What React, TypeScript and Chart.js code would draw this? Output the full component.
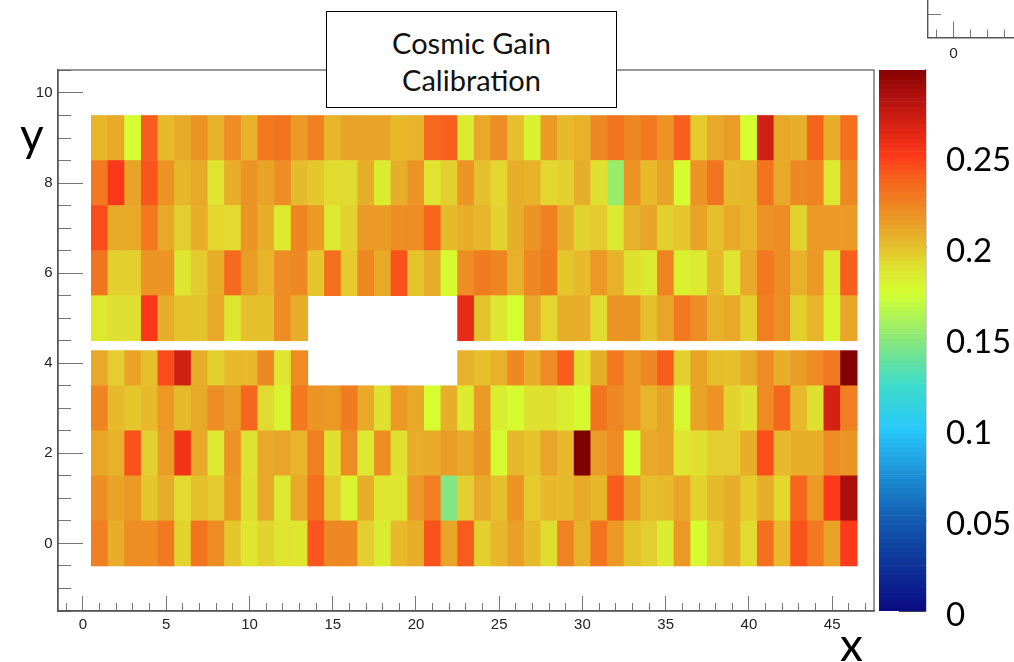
import React, { useEffect, useRef } from "react";
import { Chart, registerables } from "chart.js";

Chart.register(...registerables);

const columns = [1,2,3,4,5,6,7,8,9,10,11,12,13,14,15,16,17,18,19,20,21,22,23,24,25,26,27,28,29,30,31,32,33,34,35,36,37,38,39,40,41,42,43,44,45,46];
const N = null;
const row0 = [.226,.208,.22,.22,.228,.194,.23,.22,.198,.187,.194,.188,.187,.242,.222,.222,.196,.184,.203,.207,.243,.211,.24,.195,.204,.213,.202,.191,.224,.206,.23,.216,.199,.196,.184,.216,.177,.197,.208,.192,.232,.203,.243,.228,.212,.25];
const row1 = [.22,.212,.216,.198,.208,.192,.2,.197,.216,.19,.21,.186,.21,.232,.197,.18,.207,.187,.187,.216,.226,.147,.196,.21,.2,.218,.197,.203,.202,.21,.204,.24,.216,.2,.203,.211,.194,.202,.208,.197,.208,.193,.236,.215,.25,.285];
const row2 = [.211,.206,.243,.195,.214,.255,.21,.186,.218,.189,.21,.211,.205,.226,.19,.221,.186,.22,.19,.208,.209,.214,.21,.217,.177,.204,.199,.211,.203,.3,.214,.221,.176,.21,.212,.187,.19,.196,.196,.208,.244,.203,.207,.208,.22,.217];
const row3 = [.223,.203,.198,.203,.216,.202,.21,.22,.214,.236,.192,.181,.228,.217,.216,.227,.21,.19,.216,.21,.176,.207,.185,.215,.183,.177,.19,.19,.183,.178,.23,.222,.216,.205,.212,.179,.212,.218,.194,.19,.221,.236,.203,.19,.268,.226];
const row4 = [.21,.196,.212,.2,.245,.27,.207,.195,.203,.203,.222,.187,.221,N,N,N,N,N,N,N,N,N,.206,.2,.206,.222,.208,.221,.24,.19,.207,.228,.216,.222,.24,.195,.212,.201,.2,.209,.221,.208,.214,.221,.228,.298];
const row5 = [.186,.19,.19,.252,.208,.199,.199,.21,.187,.2,.2,.22,.208,N,N,N,N,N,N,N,N,N,.26,.199,.187,.175,.21,.193,.207,.208,.191,.217,.217,.2,.211,.228,.22,.206,.21,.195,.226,.219,.195,.205,.181,.211];
const row6 = [.23,.195,.195,.217,.217,.187,.197,.208,.234,.214,.205,.22,.222,.198,.232,.197,.222,.21,.243,.199,.208,.178,.22,.227,.223,.206,.222,.227,.198,.203,.216,.206,.19,.186,.224,.182,.185,.203,.188,.21,.228,.22,.206,.216,.185,.238];
const row7 = [.245,.21,.21,.228,.21,.196,.208,.193,.192,.217,.208,.185,.223,.215,.186,.194,.215,.215,.22,.22,.236,.202,.207,.205,.194,.207,.217,.225,.208,.194,.197,.186,.206,.212,.195,.198,.212,.2,.21,.205,.218,.22,.194,.215,.215,.215];
const row8 = [.228,.252,.212,.242,.218,.204,.21,.188,.208,.217,.212,.22,.202,.198,.192,.192,.207,.185,.208,.217,.188,.195,.217,.2,.193,.208,.206,.193,.195,.207,.19,.155,.217,.203,.212,.176,.217,.23,.202,.204,.23,.21,.222,.223,.186,.222];
const row9 = [.205,.21,.175,.24,.203,.21,.218,.206,.22,.206,.228,.23,.215,.225,.205,.212,.212,.212,.203,.205,.235,.238,.185,.21,.22,.2,.182,.215,.203,.206,.222,.23,.222,.228,.218,.238,.197,.21,.214,.175,.27,.21,.207,.237,.207,.232];
const rows = [row0,row1,row2,row3,row4,row5,row6,row7,row8,row9];
const rowLow = [-0.5,0.5,1.5,2.5,3.5,4.5,5.5,6.5,7.5,8.5];
const rowHigh = [0.5,1.5,2.5,3.5,4.28,5.5,6.5,7.5,8.5,9.5];

const paletteValues = [0,.05,.1,.125,.15,.175,.19,.2,.21,.225,.24,.25,.265,.28,.3];
const paletteColors = [[10,10,130],[18,90,176],[40,200,250],[62,220,200],[140,232,120],[212,255,48],[224,224,48],[230,192,44],[232,168,40],[240,128,32],[248,92,28],[255,58,26],[220,36,20],[184,20,16],[128,0,0]];
const scaleLevels = [.00125,.00375,.00625,.00875,.01125,.01375,.01625,.01875,.02125,.02375,.02625,.02875,.03125,.03375,.03625,.03875,.04125,.04375,.04625,.04875,.05125,.05375,.05625,.05875,.06125,.06375,.06625,.06875,.07125,.07375,.07625,.07875,.08125,.08375,.08625,.08875,.09125,.09375,.09625,.09875,.10125,.10375,.10625,.10875,.11125,.11375,.11625,.11875,.12125,.12375,.12625,.12875,.13125,.13375,.13625,.13875,.14125,.14375,.14625,.14875,.15125,.15375,.15625,.15875,.16125,.16375,.16625,.16875,.17125,.17375,.17625,.17875,.18125,.18375,.18625,.18875,.19125,.19375,.19625,.19875,.20125,.20375,.20625,.20875,.21125,.21375,.21625,.21875,.22125,.22375,.22625,.22875,.23125,.23375,.23625,.23875,.24125,.24375,.24625,.24875,.25125,.25375,.25625,.25875,.26125,.26375,.26625,.26875,.27125,.27375,.27625,.27875,.28125,.28375,.28625,.28875,.29125,.29375,.29625,.29875];

const colorOf = (v: number) => {
  let i = 0;
  while (i < paletteValues.length - 2 && v > paletteValues[i + 1]) i++;
  const t = Math.min(1, Math.max(0, (v - paletteValues[i]) / (paletteValues[i + 1] - paletteValues[i])));
  const c = paletteColors[i].map((a, k) => Math.round(a + (paletteColors[i + 1][k] - a) * t));
  return `rgb(${c[0]},${c[1]},${c[2]})`;
};

const AXIS = "#555";
const TICK = "#777";
const SANS = "'Liberation Sans', Arial, sans-serif";

function axis(o: any) {
  const horiz = o.axis === "x";
  return {
    type: "linear", axis: o.axis, position: o.position, min: o.min, max: o.max, offset: false, weight: o.weight ?? 0,
    afterFit: (s: any) => {
      if (horiz) s.height = o.size; else s.width = o.size;
      s.paddingTop = s.paddingBottom = s.paddingLeft = s.paddingRight = 0;
    },
    border: { display: !!o.border, color: o.borderColor ?? AXIS, width: 1.4 },
    grid: { offset: false, drawOnChartArea: false, drawTicks: true, tickLength: -o.tick, tickColor: o.tickColor ?? TICK, tickWidth: 1 },
    ticks: {
      display: !!o.labels, stepSize: o.step, includeBounds: false, autoSkip: false, maxRotation: 0, minRotation: 0,
      padding: o.padding ?? 0, labelOffset: o.labelOffset ?? 0, color: o.color ?? "#222",
      font: { family: o.family ?? SANS, size: o.font ?? 15 },
      callback: (v: number) => String(Math.round(v * 100) / 100),
    },
  };
}

const base: any = {
  responsive: false, animation: false, maintainAspectRatio: false,
  plugins: { legend: { display: false }, tooltip: { enabled: false }, title: { display: false } },
};

const frame = {
  id: "frame",
  afterDraw(chart: any) {
    const { ctx, chartArea: a } = chart;
    ctx.save();
    ctx.strokeStyle = AXIS;
    ctx.lineWidth = 1.2;
    ctx.strokeRect(a.left, a.top, a.right - a.left, a.bottom - a.top);
    ctx.restore();
  },
};

const abs = (s: any): any => ({ position: "fixed", margin: 0, ...s });

export default function App() {
  const main = useRef<HTMLCanvasElement>(null);
  const bar = useRef<HTMLCanvasElement>(null);
  const inset = useRef<HTMLCanvasElement>(null);

  useEffect(() => {
    document.body.style.background = "#fff";
    const heat = new Chart(main.current!, {
      type: "bar",
      data: {
        datasets: rows.map((r, k) => {
          const cols = columns.filter((_, i) => r[i] !== null);
          return {
            data: cols.map((c) => ({ x: c, y: [rowLow[k], rowHigh[k]] })),
            backgroundColor: r.filter((v) => v !== null).map((v) => colorOf(v as number)),
            borderWidth: 0, grouped: false, barPercentage: 1, categoryPercentage: 1,
            xAxisID: "x", yAxisID: "y",
          };
        }) as any,
      },
      options: {
        ...base,
        layout: { padding: { left: 0, top: 70, right: 140, bottom: 0 } },
        scales: {
          x: axis({ axis: "x", position: "bottom", min: -1.5, max: 47.51, step: 5, tick: 15, size: 51, labels: true, padding: 20, border: true }),
          xMinor: axis({ axis: "x", position: "bottom", min: -1.5, max: 47.51, step: 1, tick: 8, size: 0, weight: -1 }),
          y: axis({ axis: "y", position: "left", min: -1.5, max: 10.51, step: 2, tick: 25, size: 58, labels: true, padding: 30.5, border: true }),
          yMinor: axis({ axis: "y", position: "left", min: -1.5, max: 10.51, step: 0.5, tick: 13, size: 0, weight: -1 }),
        } as any,
      },
      plugins: [frame],
    });

    const scale = new Chart(bar.current!, {
      type: "bar",
      data: {
        datasets: [{
          data: scaleLevels.map((l) => ({ y: l, x: 1 })),
          backgroundColor: scaleLevels.map(colorOf),
          borderWidth: 0, barPercentage: 1, categoryPercentage: 1, xAxisID: "x", yAxisID: "y",
        }] as any,
      },
      options: {
        ...base,
        indexAxis: "y",
        layout: { padding: { left: 0, top: 70, right: 0, bottom: 51 } },
        scales: {
          x: { type: "linear", min: 0, max: 1, display: false, offset: false },
          y: axis({ axis: "y", position: "right", min: 0, max: 0.2973, step: 0.05, tick: 27, size: 88, labels: true, padding: 47, labelOffset: 4, font: 33, family: "Lato", color: "#000", border: true, borderColor: "#888", tickColor: "rgba(20,20,40,.8)" }),
        } as any,
      },
    });

    const corner = new Chart(inset.current!, {
      type: "scatter",
      data: { datasets: [{ data: [], xAxisID: "x", yAxisID: "y" }] as any },
      options: {
        ...base,
        layout: { padding: 0 },
        scales: {
          x: axis({ axis: "x", position: "bottom", min: -1.5, max: 3.55, step: 5, tick: 16, size: 32.5, labels: true, padding: 24, border: true, family: "Lato", font: 14 }),
          xMinor: axis({ axis: "x", position: "bottom", min: -1.5, max: 3.55, step: 1, tick: 8, size: 0, weight: -1 }),
          y: axis({ axis: "y", position: "left", min: -1.5, max: -0.7, step: 0.5, tick: 13, size: 48, border: true }),
        } as any,
      },
    });

    return () => { heat.destroy(); scale.destroy(); corner.destroy(); };
  }, []);

  return (
    <div>
      <canvas ref={main} width={1014} height={662} style={abs({ left: 0, top: 0 })} />
      <canvas ref={bar} width={135} height={662} style={abs({ left: 879, top: 0 })} />
      <canvas ref={inset} width={134} height={70} style={abs({ left: 880, top: 0 })} />
      <div style={abs({ left: 326, top: 11, width: 289, height: 95, border: "1.5px solid #000", background: "#fff", fontFamily: "Lato", fontSize: 29, lineHeight: "37px", textAlign: "center", color: "#111", boxSizing: "content-box" })}>
        <div style={{ marginTop: 12 }}>Cosmic Gain</div>
        <div>Calibration</div>
      </div>
      <div style={abs({ left: 20, top: 110, fontFamily: "Lato", fontSize: 46, color: "#000", lineHeight: "48px" })}>y</div>
      <div style={abs({ left: 840, top: 620, fontFamily: "Lato", fontSize: 46, color: "#000", lineHeight: "48px" })}>x</div>
    </div>
  );
}
